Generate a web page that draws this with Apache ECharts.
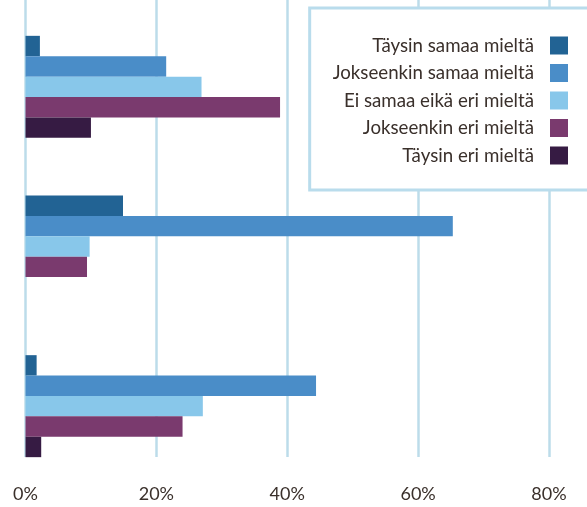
<!DOCTYPE html>
<html>
<head>
<meta charset="utf-8">
<script src="https://cdn.jsdelivr.net/npm/echarts@6/dist/echarts.min.js"></script>
<style>
  html, body { margin: 0; padding: 0; background: #fff; }
  #main { width: 587px; height: 507px; }
</style>
</head>
<body>
<div id="main"></div>
<script>
  var myChart = echarts.init(document.getElementById('main'));

  var categories = ['1', '2', '3'];
  var seriesNames = ['Täysin samaa mieltä', 'Jokseenkin samaa mieltä', 'Ei samaa eikä eri mieltä', 'Jokseenkin eri mieltä', 'Täysin eri mieltä'];
  var taysinSamaa = [2.2, 14.9, 1.7];
  var jokseenkinSamaa = [21.5, 65.3, 44.4];
  var eiSamaaEikaEri = [26.9, 9.8, 27.1];
  var jokseenkinEri = [38.9, 9.4, 24.0];
  var taysinEri = [10.0, 0, 2.4];
  var xTicks = [0, 20, 40, 60, 80];
  var myColor = ['#226394', '#4a8dc8', '#88c7ea', '#7a3a6e', '#361b43'];

  var values = [taysinSamaa, jokseenkinSamaa, eiSamaaEikaEri, jokseenkinEri, taysinEri];
  var gridColor = '#bcdcea';
  var textColor = '#3a302b';

  var series = seriesNames.map(function (name, i) {
    return {
      name: name,
      type: 'bar',
      xAxisIndex: 0,
      yAxisIndex: 0,
      data: values[i],
      barWidth: 20.4,
      barGap: '0%',
      itemStyle: { color: myColor[i] }
    };
  });

  var option = {
    animation: false,
    color: myColor,
    grid: [
      // bars
      { left: 25.5, right: 38, top: 7, bottom: 21 },
      // vertical grid lines + tick labels
      { left: 25.5, right: 38, top: 0, height: 457 }
    ],
    xAxis: [
      {
        gridIndex: 0,
        type: 'value',
        min: xTicks[0],
        max: xTicks[xTicks.length - 1],
        interval: 20,
        axisLine: { show: false },
        axisTick: { show: false },
        axisLabel: { show: false },
        splitLine: { show: false }
      },
      {
        gridIndex: 1,
        type: 'value',
        min: xTicks[0],
        max: xTicks[xTicks.length - 1],
        interval: 20,
        axisLine: { show: false },
        axisTick: { show: false },
        axisLabel: {
          margin: 28,
          fontSize: 18,
          fontFamily: 'Lato',
          color: textColor,
          formatter: '{value}%'
        },
        splitLine: { show: true, lineStyle: { color: gridColor, width: 2.5 } }
      }
    ],
    yAxis: [
      {
        gridIndex: 0,
        type: 'category',
        data: categories,
        inverse: true,
        axisLine: { show: false },
        axisTick: { show: false },
        axisLabel: { show: false },
        splitLine: { show: false }
      },
      {
        gridIndex: 1,
        type: 'category',
        data: categories,
        show: false
      }
    ],
    legend: {
      data: seriesNames,
      orient: 'vertical',
      align: 'right',
      right: -11,
      top: 8,
      itemWidth: 18,
      itemHeight: 18,
      itemGap: 8.5,
      icon: 'rect',
      padding: [28, 30, 25, 23],
      backgroundColor: '#fff',
      borderColor: '#b9dcec',
      borderWidth: 3,
      textStyle: {
        fontSize: 18.7,
        lineHeight: 18,
        fontFamily: 'Lato',
        color: textColor,
        padding: [0, 11, 0, 0]
      }
    },
    series: series
  };

  myChart.setOption(option);
</script>
</body>
</html>
